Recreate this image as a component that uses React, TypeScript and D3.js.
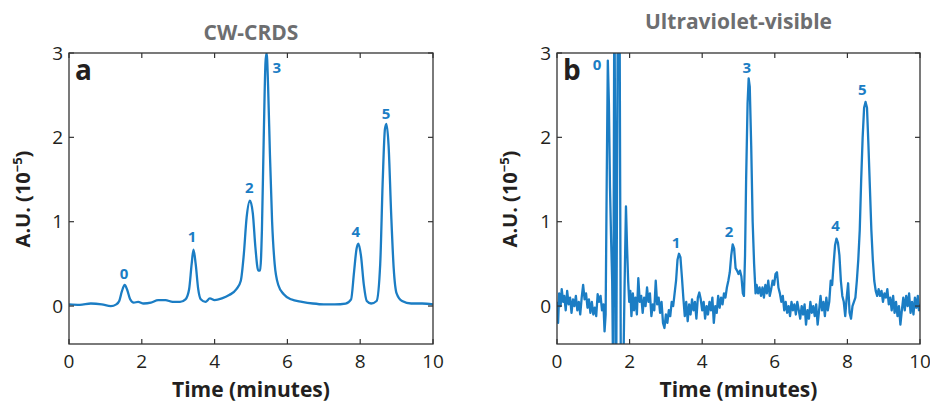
import React, { useEffect, useRef } from "react";
import * as d3 from "d3";

// CW-CRDS trace: [time (min), absorbance (1e-5)]
const crdsTrace: [number, number][] = [
  [0, 0.02], [0.3, 0.015], [0.6, 0.03], [0.9, 0.02], [1.15, 0.0], [1.3, 0.02],
  [1.38, 0.06], [1.45, 0.17], [1.53, 0.25], [1.6, 0.19], [1.68, 0.08], [1.78, 0.04],
  [1.9, 0.05], [2.05, 0.03], [2.25, 0.04], [2.45, 0.07], [2.65, 0.07], [2.85, 0.05],
  [3.05, 0.05], [3.2, 0.08], [3.3, 0.2], [3.37, 0.5], [3.42, 0.67], [3.48, 0.5],
  [3.55, 0.2], [3.62, 0.08], [3.75, 0.05], [3.87, 0.09], [4.0, 0.07], [4.2, 0.09],
  [4.4, 0.13], [4.6, 0.2], [4.72, 0.3], [4.8, 0.6], [4.88, 1.05], [4.97, 1.25],
  [5.05, 1.1], [5.12, 0.7], [5.2, 0.42], [5.25, 0.42], [5.3, 0.9], [5.35, 2.0],
  [5.4, 2.9], [5.43, 3.0], [5.47, 2.6], [5.52, 1.8], [5.58, 1.0], [5.65, 0.5],
  [5.75, 0.25], [5.9, 0.14], [6.1, 0.08], [6.4, 0.05], [6.7, 0.03], [7.0, 0.02],
  [7.3, 0.02], [7.6, 0.03], [7.75, 0.08], [7.83, 0.4], [7.9, 0.68], [7.95, 0.74],
  [8.02, 0.6], [8.1, 0.25], [8.18, 0.06], [8.3, 0.03], [8.45, 0.06], [8.55, 0.5],
  [8.62, 1.5], [8.68, 2.1], [8.72, 2.16], [8.78, 1.9], [8.85, 1.1], [8.92, 0.45],
  [9.0, 0.15], [9.15, 0.06], [9.4, 0.03], [9.7, 0.03], [10, 0.02],
];

// UV-visible trace: [time (min), absorbance (1e-5)]
const uvTrace: [number, number][] = [
  [0.0, 0.05], [0.03, -0.2], [0.06, 0.15], [0.1, 0.0], [0.13, 0.2], [0.17, 0.05],
  [0.2, 0.12], [0.24, -0.05], [0.28, 0.18], [0.32, 0.02], [0.36, 0.1], [0.4, -0.08],
  [0.44, 0.08], [0.48, 0.0], [0.52, 0.12], [0.56, -0.05], [0.6, 0.05], [0.64, -0.1],
  [0.68, 0.1], [0.72, 0.25], [0.76, 0.08], [0.8, 0.15], [0.84, -0.02], [0.88, 0.08],
  [0.92, -0.08], [0.96, 0.05], [1.0, -0.1], [1.04, -0.02], [1.08, -0.12], [1.12, 0.14],
  [1.16, 0.05], [1.2, 0.12], [1.24, -0.05], [1.28, 0.02], [1.31, -0.3], [1.34, -0.1],
  [1.37, 1.5], [1.4, 2.91], [1.43, 2.4], [1.46, 1.4], [1.49, 0.8], [1.52, 0.3],
  [1.55, -1], [1.58, 4], [1.63, -1], [1.68, 4], [1.72, 4], [1.76, -1], [1.82, -1],
  [1.86, 0.2], [1.9, 1.18], [1.93, 0.7], [1.96, 0.3], [1.99, 0.05], [2.02, 0.18],
  [2.05, -0.12], [2.09, 0.15], [2.12, -0.05], [2.16, 0.1], [2.2, -0.1], [2.24, 0.33],
  [2.28, 0.05], [2.32, 0.12], [2.36, -0.08], [2.4, 0.1], [2.44, 0.0], [2.48, 0.22],
  [2.52, 0.05], [2.56, 0.15], [2.6, -0.12], [2.64, 0.02], [2.68, -0.05], [2.72, 0.3],
  [2.76, 0.02], [2.8, 0.1], [2.84, -0.08], [2.88, 0.05], [2.92, -0.2], [2.96, -0.26],
  [3.0, -0.1], [3.04, -0.2], [3.08, -0.05], [3.12, -0.12], [3.16, 0.05], [3.2, 0.0],
  [3.24, 0.15], [3.28, 0.3], [3.32, 0.55], [3.36, 0.62], [3.4, 0.58], [3.44, 0.35],
  [3.48, 0.1], [3.52, -0.12], [3.56, 0.05], [3.6, -0.18], [3.64, 0.02], [3.68, -0.1],
  [3.72, 0.08], [3.76, -0.05], [3.8, 0.05], [3.84, -0.15], [3.88, 0.1], [3.92, 0.16],
  [3.96, 0.08], [4.0, -0.05], [4.04, 0.05], [4.08, -0.15], [4.12, 0.0], [4.16, -0.1],
  [4.2, 0.05], [4.24, -0.05], [4.28, 0.1], [4.32, -0.2], [4.36, 0.0], [4.4, -0.08],
  [4.44, 0.12], [4.48, -0.02], [4.52, 0.1], [4.56, 0.02], [4.6, 0.15], [4.64, 0.1],
  [4.68, 0.22], [4.72, 0.3], [4.76, 0.4], [4.8, 0.6], [4.84, 0.73], [4.88, 0.68],
  [4.92, 0.45], [4.96, 0.42], [5.0, 0.38], [5.04, 0.42], [5.08, 0.35], [5.12, 0.15],
  [5.15, 0.12], [5.18, 0.6], [5.21, 1.5], [5.25, 2.4], [5.28, 2.7], [5.31, 2.6],
  [5.35, 1.9], [5.39, 1.0], [5.43, 0.5], [5.47, 0.15], [5.5, 0.25], [5.54, 0.15],
  [5.58, 0.22], [5.62, 0.12], [5.66, 0.22], [5.7, 0.1], [5.74, 0.25], [5.78, 0.15],
  [5.82, 0.3], [5.86, 0.12], [5.9, 0.2], [5.94, 0.3], [5.98, 0.25], [6.02, 0.38],
  [6.06, 0.4], [6.1, 0.22], [6.14, 0.15], [6.18, 0.05], [6.22, 0.12], [6.26, -0.05],
  [6.3, 0.05], [6.34, -0.08], [6.38, 0.0], [6.42, -0.12], [6.46, 0.05], [6.5, -0.05],
  [6.54, 0.02], [6.58, -0.1], [6.62, 0.05], [6.66, -0.05], [6.7, -0.15], [6.74, 0.0],
  [6.78, -0.1], [6.82, 0.02], [6.86, -0.22], [6.9, -0.05], [6.94, -0.15], [6.98, 0.05],
  [7.02, -0.08], [7.06, 0.0], [7.1, -0.12], [7.14, 0.02], [7.18, -0.22], [7.22, -0.05],
  [7.26, 0.12], [7.3, -0.05], [7.34, 0.05], [7.38, -0.12], [7.42, 0.1], [7.46, -0.05],
  [7.5, 0.05], [7.54, 0.3], [7.58, 0.25], [7.62, 0.5], [7.66, 0.72], [7.7, 0.8],
  [7.74, 0.75], [7.78, 0.6], [7.82, 0.3], [7.86, 0.12], [7.9, 0.05], [7.94, -0.12],
  [7.98, 0.1], [8.02, 0.27], [8.06, -0.08], [8.1, -0.15], [8.14, 0.0], [8.18, 0.05],
  [8.22, 0.1], [8.26, 0.3], [8.3, 0.55], [8.34, 0.9], [8.38, 1.5], [8.42, 2.0],
  [8.46, 2.35], [8.5, 2.42], [8.54, 2.35], [8.58, 1.9], [8.62, 1.4], [8.66, 0.9],
  [8.7, 0.55], [8.74, 0.3], [8.78, 0.18], [8.82, 0.12], [8.86, 0.2], [8.9, 0.12],
  [8.94, 0.18], [8.98, 0.05], [9.02, 0.15], [9.06, 0.1], [9.1, 0.2], [9.14, 0.02],
  [9.18, 0.1], [9.22, -0.05], [9.26, 0.12], [9.3, -0.08], [9.34, 0.05], [9.38, -0.12],
  [9.42, 0.0], [9.46, -0.22], [9.5, -0.05], [9.54, 0.1], [9.58, -0.05], [9.62, 0.12],
  [9.66, 0.0], [9.7, 0.15], [9.74, -0.08], [9.78, 0.05], [9.82, -0.1], [9.86, 0.1],
  [9.9, -0.02], [9.94, 0.12], [9.97, -0.05], [10.0, 0.02],
];

// peak labels: [label, time, value]
const crdsPeaks: [string, number, number][] = [
  ["0", 1.51, 0.38], ["1", 3.38, 0.82], ["2", 4.95, 1.4],
  ["3", 5.71, 2.83], ["4", 7.88, 0.88], ["5", 8.71, 2.28],
];
const uvPeaks: [string, number, number][] = [
  ["0", 1.1, 2.86], ["1", 3.28, 0.75], ["2", 4.74, 0.88],
  ["3", 5.23, 2.82], ["4", 7.67, 0.95], ["5", 8.41, 2.57],
];

const xTicks = [0, 2, 4, 6, 8, 10];
const yTicks = [0, 1, 2, 3];

const panels = [
  { id: "crds", left: 69, right: 433, title: "CW-CRDS", titleY: 40, letter: "a", trace: crdsTrace, peaks: crdsPeaks, yLabelX: 23 },
  { id: "uv", left: 557, right: 920, title: "Ultraviolet-visible", titleY: 29, letter: "b", trace: uvTrace, peaks: uvPeaks, yLabelX: 510 },
];

const FONT = "'Open Sans', 'Noto Sans', sans-serif";
const BLUE = "#1b7dc4";

export default function App() {
  const svgRef = useRef<SVGSVGElement>(null);

  useEffect(() => {
    const svg = d3.select(svgRef.current);
    svg.selectAll("*").remove();

    const top = 53;
    const bottom = 344;

    panels.forEach((p) => {
      const x = d3.scaleLinear().domain([0, 10]).range([p.left, p.right]);
      const y = d3.scaleLinear().domain([-0.45, 3]).range([bottom, top]);
      const cx = (p.left + p.right) / 2;
      const g = svg.append("g");

      // clip
      g.append("clipPath")
        .attr("id", `clip-${p.id}`)
        .append("rect")
        .attr("x", p.left)
        .attr("y", top)
        .attr("width", p.right - p.left)
        .attr("height", bottom - top);

      // title
      g.append("text")
        .attr("x", cx)
        .attr("y", p.titleY)
        .attr("text-anchor", "middle")
        .attr("font-family", FONT)
        .attr("font-weight", 700)
        .attr("font-size", 21)
        .attr("fill", "#6d6e70")
        .text(p.title);

      // trace
      const line = d3
        .line<[number, number]>()
        .x((d) => x(d[0]))
        .y((d) => y(d[1]))
        .curve(p.id === "crds" ? d3.curveMonotoneX : d3.curveLinear);

      g.append("path")
        .datum(p.trace)
        .attr("clip-path", `url(#clip-${p.id})`)
        .attr("fill", "none")
        .attr("stroke", BLUE)
        .attr("stroke-width", 2.3)
        .attr("stroke-linejoin", "round")
        .attr("d", line);

      // box
      g.append("rect")
        .attr("x", p.left)
        .attr("y", top)
        .attr("width", p.right - p.left)
        .attr("height", bottom - top)
        .attr("fill", "none")
        .attr("stroke", "#333")
        .attr("stroke-width", 1.3);

      // inward ticks
      const tl = 5;
      xTicks.forEach((t) => {
        g.append("line").attr("x1", x(t)).attr("x2", x(t)).attr("y1", bottom).attr("y2", bottom - tl).attr("stroke", "#333").attr("stroke-width", 1.2);
        g.append("line").attr("x1", x(t)).attr("x2", x(t)).attr("y1", top).attr("y2", top + tl).attr("stroke", "#333").attr("stroke-width", 1.2);
        g.append("text")
          .attr("x", x(t))
          .attr("y", 368)
          .attr("text-anchor", "middle")
          .attr("font-family", FONT)
          .attr("font-size", 19)
          .attr("fill", "#231f20")
          .text(t);
      });
      yTicks.forEach((t) => {
        g.append("line").attr("x1", p.left).attr("x2", p.left + tl).attr("y1", y(t)).attr("y2", y(t)).attr("stroke", "#333").attr("stroke-width", 1.2);
        g.append("line").attr("x1", p.right).attr("x2", p.right - tl).attr("y1", y(t)).attr("y2", y(t)).attr("stroke", "#333").attr("stroke-width", 1.2);
        g.append("text")
          .attr("x", p.left - 6)
          .attr("y", y(t))
          .attr("dy", "0.35em")
          .attr("text-anchor", "end")
          .attr("font-family", FONT)
          .attr("font-size", 19)
          .attr("fill", "#231f20")
          .text(t);
      });

      // panel letter
      g.append("text")
        .attr("x", p.left + 6)
        .attr("y", 80)
        .attr("font-family", FONT)
        .attr("font-weight", 700)
        .attr("font-size", 28)
        .attr("fill", "#231f20")
        .text(p.letter);

      // peak labels
      g.selectAll("text.peak")
        .data(p.peaks)
        .join("text")
        .attr("class", "peak")
        .attr("x", (d) => x(d[1]))
        .attr("y", (d) => y(d[2]))
        .attr("dy", "0.35em")
        .attr("text-anchor", "middle")
        .attr("font-family", FONT)
        .attr("font-weight", 700)
        .attr("font-size", 15)
        .attr("fill", BLUE)
        .text((d) => d[0]);

      // axis titles
      g.append("text")
        .attr("x", cx)
        .attr("y", 397)
        .attr("text-anchor", "middle")
        .attr("font-family", FONT)
        .attr("font-weight", 700)
        .attr("font-size", 21)
        .attr("fill", "#231f20")
        .text("Time (minutes)");

      const yl = g
        .append("text")
        .attr("transform", `translate(${p.yLabelX + 7},199) rotate(-90)`)
        .attr("text-anchor", "middle")
        .attr("font-family", FONT)
        .attr("font-weight", 700)
        .attr("font-size", 20)
        .attr("fill", "#231f20");
      yl.append("tspan").text("A.U. (10");
      yl.append("tspan").attr("dy", -8).attr("font-size", 13).text("\u22125");
      yl.append("tspan").attr("dy", 8).text(")");
    });
  }, []);

  return (
    <svg
      ref={svgRef}
      width={930}
      height={402}
      style={{ position: "absolute", left: 0, top: 0, background: "#fff" }}
    />
  );
}
